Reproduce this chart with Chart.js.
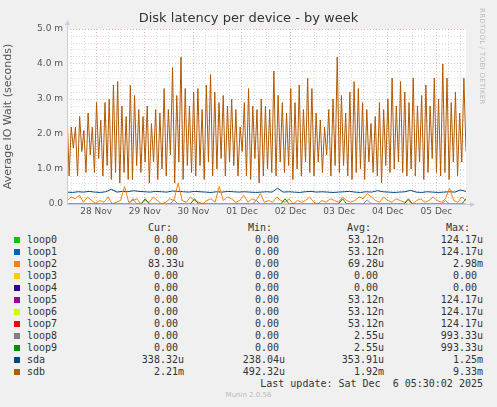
<!DOCTYPE html>
<html><head><meta charset="utf-8">
<script src="https://cdn.jsdelivr.net/npm/chart.js@4"></script>
<style>
body{margin:0;background:#f0f0f0;width:497px;height:407px;overflow:hidden;position:relative;font-family:"DejaVu Sans",sans-serif}
#wrap{position:absolute;left:0;top:0;width:497px;height:220px}
#title{position:absolute;top:10px;left:0;width:497px;text-align:center;font-size:13px;color:#333}
#rrd{position:absolute;left:478px;top:8px;writing-mode:vertical-rl;font-size:7px;color:#bbb;letter-spacing:0.3px}
.row{position:absolute;left:0;width:497px;height:12px;font-family:"DejaVu Sans Mono",monospace;font-size:10px;color:#333;white-space:pre;line-height:12px}
.row span{position:absolute;text-align:right}
.sw{position:absolute;left:14px;top:3px;width:6px;height:6px}
</style></head><body>
<div id="wrap"><canvas id="c" width="497" height="220"></canvas></div>
<div id="title">Disk latency per device - by week</div>
<div id="rrd">RRDTOOL / TOBI OETIKER</div>
<div id="legend"></div>
<script>
const dayLabels=["28 Nov","29 Nov","30 Nov","01 Dec","02 Dec","03 Dec","04 Dec","05 Dec"];
const yTickLabels=["0.0","1.0 m","2.0 m","3.0 m","4.0 m","5.0 m"];
const sdb=[2.7,0.8,2.2,1.6,2.2,0.8,2.5,1.5,2.1,0.9,2.6,1.4,2.2,0.9,2.9,1.3,2.4,0.8,2.9,1.1,3.0,0.7,3.4,0.9,3.5,0.6,2.8,0.9,2.5,0.7,3.4,0.7,3.1,1.1,2.7,0.9,2.5,1.2,2.8,0.6,2.3,1.2,2.7,0.7,2.6,1.0,3.3,0.8,2.7,1.4,3.9,0.6,3.1,1.2,4.2,0.7,3.3,1.1,2.8,0.9,3.2,0.8,3.3,1.1,2.7,0.7,3.4,1.2,3.7,0.8,3.2,1.0,2.9,1.3,3.1,0.8,2.8,1.2,3.0,1.1,2.7,0.8,2.2,1.5,2.9,0.8,3.3,0.7,2.8,1.3,2.7,0.6,3.0,0.8,2.8,1.0,2.7,0.9,3.8,0.8,3.1,1.2,2.9,0.9,2.6,1.1,3.3,0.7,2.9,1.0,3.4,0.8,2.7,1.2,3.6,0.9,3.3,0.8,2.6,1.2,2.4,0.9,2.2,1.4,2.7,0.8,3.0,1.1,4.2,0.9,3.1,1.1,2.6,0.8,3.2,0.7,3.5,0.9,3.3,1.0,2.9,0.7,2.7,1.2,2.3,0.9,2.5,0.8,2.9,0.6,2.7,1.1,3.0,0.9,3.6,1.0,2.8,1.2,3.5,0.9,3.2,0.8,2.9,1.0,3.6,0.8,2.8,1.2,3.1,0.7,3.4,0.9,2.8,1.3,3.6,0.9,3.0,0.8,4.0,0.9,3.6,0.7,2.9,1.2,3.2,0.8,2.6,1.2,3.6,1.5];
const sda=[0.34,0.33,0.35,0.34,0.36,0.34,0.33,0.35,0.42,0.34,0.36,0.35,0.38,0.36,0.35,0.34,0.36,0.35,0.34,0.37,0.36,0.35,0.34,0.36,0.35,0.34,0.33,0.35,0.34,0.36,0.35,0.34,0.35,0.34,0.33,0.34,0.35,0.34,0.45,0.34,0.35,0.34,0.33,0.35,0.36,0.34,0.35,0.34,0.33,0.34,0.35,0.36,0.34,0.33,0.35,0.34,0.38,0.35,0.34,0.33,0.34,0.35,0.39,0.34,0.33,0.35,0.34,0.33,0.34,0.35,0.34,0.40,0.36];
const loop2=[0.1,0.2,0.15,0.25,0.05,0.2,0.1,0.02,0.1,0.05,0.2,0.0,0.05,0.1,0.5,0.05,0.1,0.15,0.0,0.1,0.05,0.2,0.1,0.0,0.05,0.15,0.1,0.6,0.1,0.05,0.2,0.1,0.05,0.0,0.1,0.15,0.05,0.5,0.1,0.2,0.15,0.05,0.1,0.25,0.05,0.15,0.1,0.3,0.05,0.1,0.05,0.2,0.1,0.05,0.15,0.0,0.1,0.05,0.1,0.2,0.05,0.0,0.1,0.05,0.15,0.1,0.05,0.2,0.1,0.05,0.1,0.2,0.15,0.3,0.2,0.1,0.05,0.2,0.1,0.05,0.15,0.1,0.05,0.1,0.0,0.1,0.15,0.05,0.1,0.2,0.1,0.05,0.15,0.45,0.1,0.05,0.2,0.1];
const loop8=[0,0,0,0,0,0,0,0,0,0,0,0,0,0,0,0,0.15,0,0,0,0,0,0,0,0,0,0.12,0,0,0,0,0,0,0,0,0,0,0,0,0,0,0,0,0,0,0,0.1,0,0,0,0,0,0,0,0,0,0,0,0,0,0,0,0,0,0,0,0,0,0,0,0,0,0,0.12,0,0,0,0,0,0,0,0,0,0,0,0,0,0,0,0,0,0,0.1,0,0,0,0,0];
const loop9=[0,0,0,0,0,0,0,0,0,0,0,0,0,0,0,0,0,0,0,0.15,0,0,0,0,0,0,0,0,0,0,0,0.15,0,0,0,0,0,0,0,0,0,0,0,0,0,0,0,0,0,0,0,0,0,0.15,0,0,0,0,0,0,0,0,0,0,0,0,0,0.15,0,0,0,0,0,0,0,0,0,0,0,0,0,0,0,0.15,0,0,0,0,0,0,0,0,0,0,0,0,0,0.15];
const HOURS=197, FIRST_DAY=14.4;
function pts(a){const n=a.length;return a.map((v,i)=>({x:i*HOURS/(n-1),y:v}));}
const bgPlugin={id:'bg',beforeDraw(ch){const a=ch.chartArea,c=ch.ctx;c.save();c.fillStyle='#fff';c.fillRect(a.left,a.top,a.right-a.left,a.bottom-a.top);c.restore();},
 afterDraw(ch){const a=ch.chartArea,c=ch.ctx;c.save();c.strokeStyle='#ccd';c.fillStyle='#ccd';c.lineWidth=1;
 c.beginPath();c.moveTo(a.left+0.5,a.bottom);c.lineTo(a.left+0.5,a.top-6);c.moveTo(a.left,a.bottom+0.5);c.lineTo(a.right+5,a.bottom+0.5);c.stroke();
 c.beginPath();c.moveTo(a.left-2,a.top-4);c.lineTo(a.left+3,a.top-4);c.lineTo(a.left+0.5,a.top-9);c.fill();
 c.beginPath();c.moveTo(a.right+4,a.bottom-2);c.lineTo(a.right+4,a.bottom+3);c.lineTo(a.right+9,a.bottom+0.5);c.fill();c.restore();}};
const ds=(label,data,color,w)=>({label,data:pts(data),borderColor:color,borderWidth:w||1,pointRadius:0,tension:0});
new Chart(document.getElementById('c'),{type:'line',
 data:{datasets:[ds('loop8',loop8,'#888888'),ds('loop9',loop9,'#008f00'),ds('loop2',loop2,'#ff7f00'),ds('sda',sda,'#004a7f'),ds('sdb',sdb,'#b35900')]},
 options:{animation:false,responsive:false,events:[],
  layout:{padding:{top:29,right:31,left:0,bottom:0}},
  plugins:{legend:{display:false},tooltip:{enabled:false}},
  scales:{
   x:{type:'linear',min:0,max:HOURS,
    afterFit(s){s.height=16;},
    afterBuildTicks(s){const t=[];for(let h=FIRST_DAY-12;h<=HOURS;h+=6)t.push({value:h});s.ticks=t;},
    ticks:{autoSkip:false,maxRotation:0,color:'#555',font:{size:9,family:'DejaVu Sans'},padding:2,
     callback(v){const k=(v-FIRST_DAY)/24;const r=Math.round(k);return Math.abs(k-r)<0.01&&r>=0&&r<dayLabels.length?dayLabels[r]:'';}},
    grid:{drawTicks:false,lineWidth:1,color(c){const k=(c.tick.value-FIRST_DAY)/24;return Math.abs(k-Math.round(k))<0.01?'rgba(230,130,130,0.6)':'rgba(190,190,200,0.6)';}},
    border:{display:false,dash:[1,2]}},
   y:{min:0,max:5,
    afterFit(s){s.width=67;},
    afterBuildTicks(s){const t=[];for(let i=0;i<=25;i++)t.push({value:i/5});s.ticks=t;},
    ticks:{autoSkip:false,color:'#555',font:{size:9,family:'DejaVu Sans'},padding:4,
     callback(v){const r=Math.round(v);return Math.abs(v-r)<0.001?yTickLabels[r]:'';}},
    title:{display:true,text:'Average IO Wait (seconds)',color:'#555',font:{size:11,family:'DejaVu Sans'},padding:2},
    grid:{drawTicks:false,color(c){const v=c.tick.value;return Math.abs(v-Math.round(v))<0.001?'rgba(230,130,130,0.6)':'rgba(190,190,200,0.6)';}},
    border:{display:false,dash:[1,2]}}
  }},
 plugins:[bgPlugin]});
Chart.defaults.borderColor='#ddd';
// legend
const names=["loop0","loop1","loop2","loop3","loop4","loop5","loop6","loop7","loop8","loop9","sda","sdb"];
const colors=["#00cc00","#0066b3","#ff8000","#ffcc00","#330099","#990099","#ccff00","#ff0000","#808080","#008f00","#00487d","#b35a00"];
const cur=["0.00 ","0.00 ","83.33u","0.00 ","0.00 ","0.00 ","0.00 ","0.00 ","0.00 ","0.00 ","338.32u","2.21m"];
const mins=["0.00 ","0.00 ","0.00 ","0.00 ","0.00 ","0.00 ","0.00 ","0.00 ","0.00 ","0.00 ","238.04u","492.32u"];
const avgs=["53.12n","53.12n","69.28u","0.00 ","0.00 ","53.12n","53.12n","53.12n","2.55u","2.55u","353.91u","1.92m"];
const maxs=["124.17u","124.17u","2.98m","0.00 ","0.00 ","124.17u","124.17u","124.17u","993.33u","993.33u","1.25m","9.33m"];
const L=document.getElementById('legend');
let h='<div class="row" style="top:222px"><span style="right:'+(497-172)+'px">Cur:</span><span style="right:'+(497-272)+'px">Min:</span><span style="right:'+(497-371)+'px">Avg:</span><span style="right:'+(497-470)+'px">Max:</span></div>';
names.forEach((n,i)=>{const y=234+i*12;
 h+='<div class="row" style="top:'+y+'px"><div class="sw" style="background:'+colors[i]+'"></div><span style="left:27px">'+n+'</span>'+
 '<span style="right:'+(497-184)+'px">'+cur[i]+'</span><span style="right:'+(497-285)+'px">'+mins[i]+'</span>'+
 '<span style="right:'+(497-384)+'px">'+avgs[i]+'</span><span style="right:'+(497-483)+'px">'+maxs[i]+'</span></div>';});
h+='<div class="row" style="top:378px"><span style="right:14px">Last update: Sat Dec  6 05:30:02 2025</span></div>';
h+='<div style="position:absolute;top:391px;left:0;width:497px;text-align:center;font-size:7px;color:#bbb">Munin 2.0.56</div>';
L.innerHTML=h;
</script></body></html>
